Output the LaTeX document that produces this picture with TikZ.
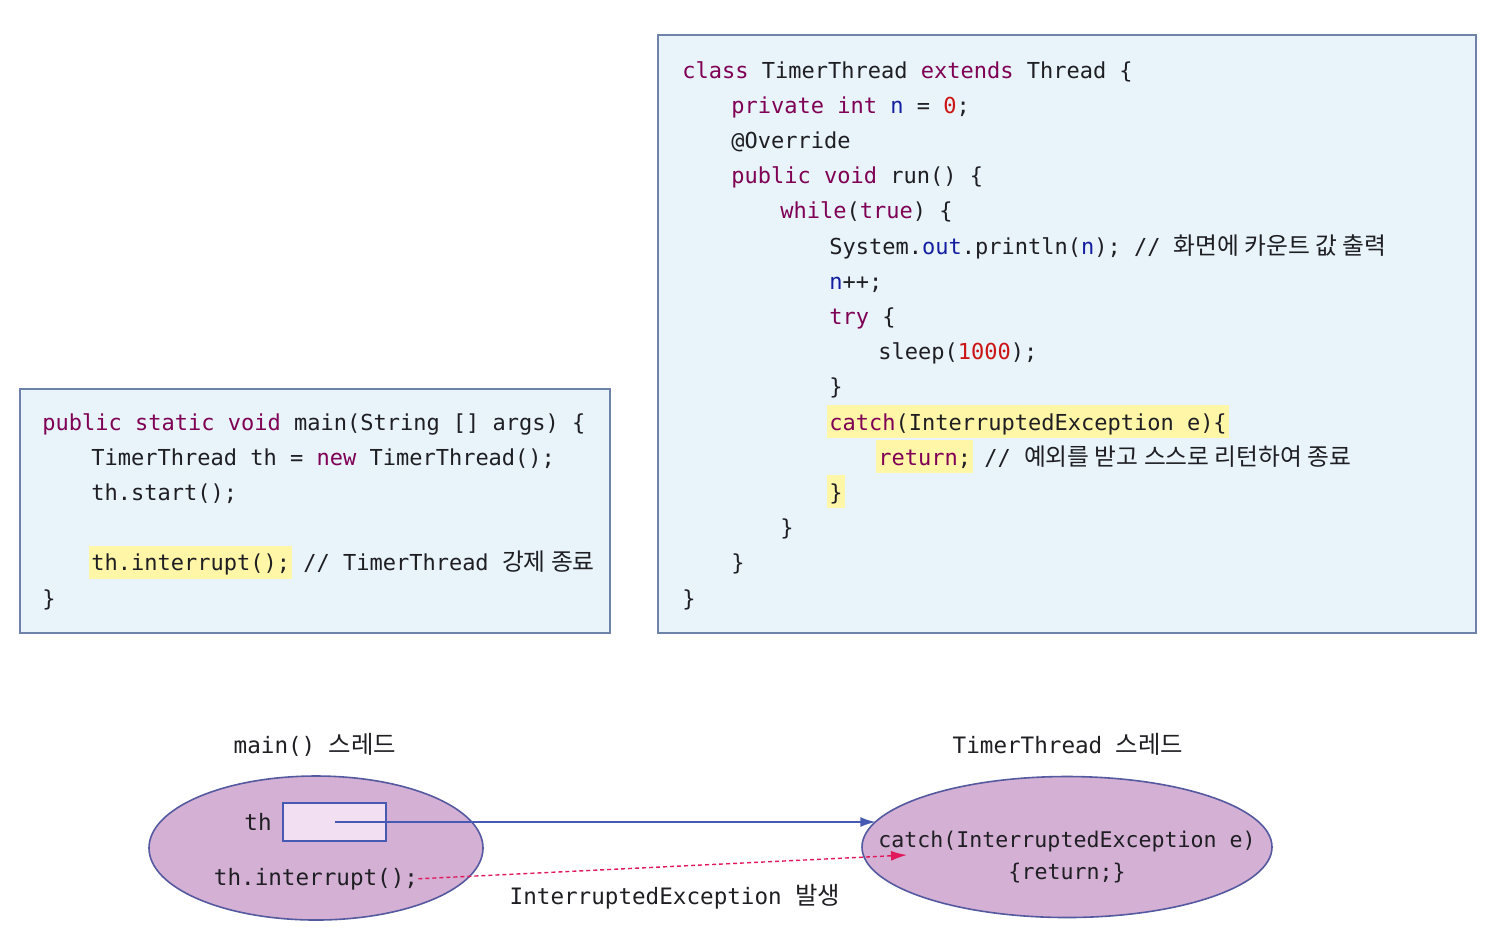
\documentclass[tikz,border=0pt]{standalone}
\usepackage{fontspec}
\setmonofont{DejaVu Sans Mono}
\newfontfamily\krfont[Scale=1.08]{Noto Sans CJK KR}
\usetikzlibrary{arrows.meta,shapes.geometric}
\definecolor{boxfill}{RGB}{232,244,249}
\definecolor{boxline}{RGB}{110,130,170}
\definecolor{codetext}{RGB}{30,30,35}
\definecolor{keyword}{RGB}{127,0,85}
\definecolor{number}{RGB}{205,20,20}
\definecolor{field}{RGB}{20,30,160}
\definecolor{hlyellow}{RGB}{255,246,168}
\definecolor{ellfill}{RGB}{212,176,212}
\definecolor{ellline}{RGB}{85,90,160}
\definecolor{thfill}{RGB}{242,224,242}
\definecolor{refblue}{RGB}{70,90,180}
\definecolor{intred}{RGB}{225,25,90}
\newcommand{\kw}[1]{\textcolor{keyword}{#1}}
\newcommand{\nm}[1]{\textcolor{number}{#1}}
\newcommand{\fv}[1]{\textcolor{field}{#1}}
\newcommand{\kr}[1]{{\krfont #1}}
\newlength{\indw}
\setlength{\indw}{24.5pt}
\newcommand{\codeind}[1]{\hspace*{#1\indw}}
\newcommand{\hlt}[1]{\kern-1pt\relax{\setlength{\fboxsep}{0pt}\colorbox{hlyellow}{\vrule height 12.5pt depth 4pt width 0pt\kern1pt\relax#1\kern1pt\relax}}\kern-1pt\relax}

\tikzset{
  codebox/.style={draw=boxline, fill=boxfill, line width=1pt, inner sep=0pt},
  codeline/.style={anchor=base west, inner sep=0pt, text=codetext,
    font=\ttfamily\fontsize{11}{13}\selectfont},
  label text/.style={anchor=base, inner sep=0pt, text=codetext,
    font=\ttfamily\fontsize{11.3}{13}\selectfont},
  thread/.style={ellipse, draw=ellline, fill=ellfill, line width=0.8pt, inner sep=0pt},
  refbox/.style={draw=refblue, fill=thfill, line width=0.8pt, inner sep=0pt,
    minimum width=51.5pt, minimum height=19pt},
  refarrow/.style={draw=refblue, line width=1.2pt, -{Latex[length=8pt,width=5pt]}},
  intarrow/.style={draw=intred, line width=0.7pt, dash pattern=on 2pt off 1.5pt,
    -{Latex[length=8pt,width=5pt]}}
}

\begin{document}
\begin{tikzpicture}[x=0.5pt,y=-0.5pt]
  \useasboundingbox (0,0) rectangle (1497,950);
  % code boxes
  \node[codebox, minimum width=295pt, minimum height=122pt] (mainbox) at (315,511) {};
  \node[codebox, minimum width=409pt, minimum height=299pt] (timerbox) at (1067,334) {};

  % main()
  \foreach \t [count=\i from 0] in {
      {\kw{public static void} main(String [] args) \{},
      {\codeind{1}TimerThread th = \kw{new} TimerThread();},
      {\codeind{1}th.start();},
      {},
      {\codeind{1}\hlt{th.interrupt();} // TimerThread \kr{강제 종료}},
      {\}}}
    \node[codeline] (m\i) at (42,{430+35.2*\i}) {\t};

  % TimerThread
  \foreach \t [count=\i from 0] in {
      {\kw{class} TimerThread \kw{extends} Thread \{},
      {\codeind{1}\kw{private int} \fv{n} = \nm{0};},
      {\codeind{1}@Override},
      {\codeind{1}\kw{public void} run() \{},
      {\codeind{2}\kw{while}(\kw{true}) \{},
      {\codeind{3}System.\fv{out}.println(\fv{n}); // \kr{화면에 카운트 값 출력}},
      {\codeind{3}\fv{n}++;},
      {\codeind{3}\kw{try} \{},
      {\codeind{4}sleep(\nm{1000});},
      {\codeind{3}\}},
      {\codeind{3}\hlt{\kw{catch}(InterruptedException e)\{}},
      {\codeind{4}\hlt{\kw{return};} // \kr{예외를 받고 스스로 리턴하여 종료}},
      {\codeind{3}\hlt{\}}},
      {\codeind{2}\}},
      {\codeind{1}\}},
      {\}}}
    \node[codeline] (t\i) at (682,{78+35.2*\i}) {\t};

  % threads
  \node[label text] (mainlbl) at (315,753) {main() \kr{스레드}};
  \node[label text] (timerlbl) at (1068,753) {TimerThread \kr{스레드}};
  \node[thread, minimum width=167pt, minimum height=72pt] (mainth) at (316,848) {};
  \node[thread, minimum width=205pt, minimum height=70.5pt] (timerth) at (1067,847) {};
  \node[refbox] (thbox) at (334.5,822) {};
  \node[label text] (thlbl) at (258,830) {th};
  \node[label text] (intr) at (316,885) {th.interrupt();};
  \node[label text, font=\ttfamily\fontsize{10.8}{13}\selectfont] (catchl) at (1067,847) {catch(InterruptedException e)};
  \node[label text, font=\ttfamily\fontsize{10.8}{13}\selectfont] (retl) at (1067,879) {\{return;\}};
  \node[label text] (exclbl) at (675,904) {InterruptedException \kr{발생}};
  \coordinate (hit) at (907,855);

  \draw[refarrow] (thbox.center) -- (thbox.center -| timerth.172);
  \draw[intarrow] (intr.east) -- (hit);
\end{tikzpicture}
\end{document}
